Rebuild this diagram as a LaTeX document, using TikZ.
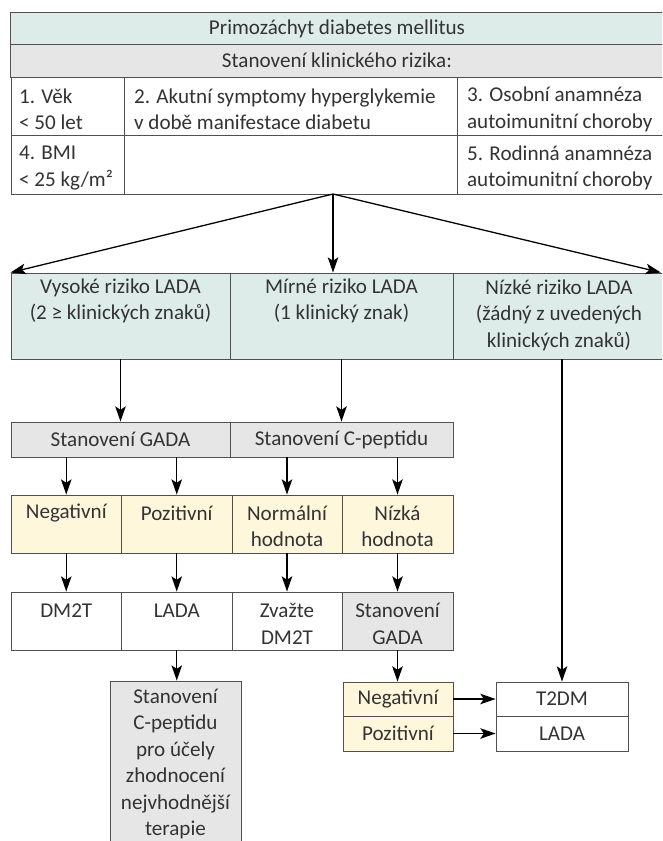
\documentclass[tikz,border=0pt]{standalone}
\usepackage{fontspec}
\setmainfont{Carlito}
\usetikzlibrary{arrows.meta}

\definecolor{tealbg}{RGB}{221,236,233}
\definecolor{graybg}{RGB}{230,230,230}
\definecolor{yellowbg}{RGB}{255,247,220}
\definecolor{rule}{RGB}{80,80,80}

\begin{document}
\begin{tikzpicture}[x=0.03cm, y=-0.03cm,
    ->, >={Stealth[length=13pt, width=9pt, inset=3pt]},
    every node/.style={font=\fontsize{18}{22.6}\selectfont, text=black!80},
    cell/.style 2 args={rectangle, draw=rule, line width=0.8pt,
          minimum width=#1*0.03cm, minimum height=#2*0.03cm, inner sep=0pt},
    flow/.style={line width=1.1pt, black}]

    \useasboundingbox (0,0) rectangle (662,841);
    \clip (0,0) rectangle (662,841);

    % table of clinical signs
    \node[cell={654}{32}, fill=tealbg] (prim) at (337,28.5) {};
    \node at (prim.center) {Primozáchyt diabetes mellitus};

    \node[cell={654}{32.5}, fill=graybg] (klin) at (337,60.75) {};
    \node at (klin.center) {Stanovení klinického rizika:};

    \node[cell={113}{58}, fill=white] (vek) at (67.5,106) {};
    \node[cell={333}{58}, fill=white] (akut) at (290.5,106) {};
    \node[cell={208}{58}, fill=white] (osob) at (561,106) {};
    \node[anchor=west, align=left] at (15,109.5) {1. Věk\\< 50 let};
    \node[anchor=west, align=left] at (130,109.5) {2. Akutní symptomy hyperglykemie\\v době manifestace diabetu};
    \node[anchor=west, align=left] at (463,109.5) {3. Osobní anamnéza\\autoimunitní choroby};

    \node[cell={113}{59}, fill=white] (bmi) at (67.5,164.5) {};
    \node[cell={333}{59}, fill=white] (prazd) at (290.5,164.5) {};
    \node[cell={208}{59}, fill=white] (rod) at (561,164.5) {};
    \node[anchor=west, align=left] at (15,168) {4. BMI\\< 25 kg/m²};
    \node[anchor=west, align=left] at (463,168) {5. Rodinná anamnéza\\autoimunitní choroby};

    % risk of LADA
    \node[cell={219}{86}, fill=tealbg] (vys) at (120.5,316) {};
    \node[align=center] at (120.5,301) {Vysoké riziko LADA\\(2 ≥ klinických znaků)};

    \node[cell={223}{86}, fill=tealbg] (mirne) at (341.5,316) {};
    \node[align=center] at (341.5,301) {Mírné riziko LADA\\(1 klinický znak)};

    \node[cell={212}{86}, fill=tealbg] (nizke) at (559,316) {};
    \node[align=center] at (559,315) {Nízké riziko LADA\\(žádný z uvedených\\klinických znaků)};

    % tests
    \node[cell={219}{35}, fill=graybg] (gada) at (120.5,439.5) {};
    \node at (gada.center) {Stanovení GADA};

    \node[cell={223}{35}, fill=graybg] (cpep) at (341.5,439.5) {};
    \node at (cpep.center) {Stanovení C-peptidu};

    % results
    \node[cell={110.5}{58}, fill=yellowbg] (neg) at (66.25,524) {};
    \node at (66.25,513) {Negativní};
    \node[cell={110.5}{58}, fill=yellowbg] (poz) at (176.75,524) {};
    \node at (176.75,513) {Pozitivní};
    \node[cell={110}{58}, fill=yellowbg] (norm) at (287,524) {};
    \node[align=center] at (287,526.5) {Normální\\hodnota};
    \node[cell={111}{58}, fill=yellowbg] (nizka) at (397.5,524) {};
    \node[align=center] at (397.5,526.5) {Nízká\\hodnota};

    \node[cell={110.5}{58}, fill=white] (dm) at (66.25,621) {};
    \node at (66.25,611) {DM2T};
    \node[cell={110.5}{58}, fill=white] (lada) at (176.75,621) {};
    \node at (176.75,611) {LADA};
    \node[cell={110}{58}, fill=white] (zvaz) at (287,621) {};
    \node[align=center] at (287,624) {Zvažte\\DM2T};
    \node[cell={111}{58}, fill=graybg] (gadb) at (397.5,621) {};
    \node[align=center] at (397.5,624) {Stanovení\\GADA};

    \node[cell={131}{179}, fill=graybg] (terap) at (175.5,770.5) {};
    \node[align=center] at (175.5,764) {Stanovení\\C-peptidu\\pro účely\\zhodnocení\\nejvhodnější\\terapie};

    \node[cell={110}{34}, fill=yellowbg] (negb) at (398,699) {};
    \node at (negb.center) {Negativní};
    \node[cell={110}{35}, fill=yellowbg] (pozb) at (398,733.5) {};
    \node at (pozb.center) {Pozitivní};

    \node[cell={132}{34}, fill=white] (t2dm) at (562,699) {};
    \node at (t2dm.center) {T2DM};
    \node[cell={132}{35}, fill=white] (ladb) at (562,733.5) {};
    \node at (ladb.center) {LADA};

    \coordinate (split) at (333,194);

    \path[every path/.style={flow}]
    (split) edge (vys.north west)
    (split) edge (split |- mirne.north)
    (split) edge ([xshift=-4pt]nizke.north east)
    (vys.south) edge (gada.north)
    (mirne.south) edge (cpep.north)
    (neg |- gada.south) edge (neg.north)
    (poz |- gada.south) edge (poz.north)
    (norm |- cpep.south) edge (norm.north)
    (nizka |- cpep.south) edge (nizka.north)
    (neg.south) edge (dm.north)
    (poz.south) edge (lada.north)
    (norm.south) edge (zvaz.north)
    (nizka.south) edge (gadb.north)
    (lada.south) edge (lada |- terap.north)
    (gadb.south) edge (gadb |- negb.north)
    (t2dm |- nizke.south) edge (t2dm.north)
    (negb.east) edge (t2dm.west)
    (pozb.east) edge (ladb.west);

\end{tikzpicture}
\end{document}
